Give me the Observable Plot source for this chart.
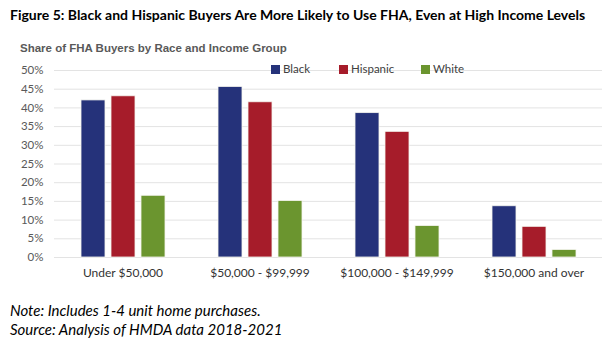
<!DOCTYPE html>
<html>
<head>
<meta charset="utf-8">
<script src="https://cdn.jsdelivr.net/npm/d3@7"></script>
<script src="https://cdn.jsdelivr.net/npm/@observablehq/plot@0.6"></script>
<style>
  html, body { margin: 0; padding: 0; background: #fff; }
  #wrap { position: relative; width: 610px; height: 347px; overflow: hidden; font-family: Lato, "Open Sans", sans-serif; }
  #title { position: absolute; left: 10px; top: 6px; font-weight: 700; font-size: 14px; color: #000; white-space: nowrap; }
  #subtitle { position: absolute; left: 20px; top: 42px; font-family: "Liberation Sans", Arial, sans-serif; font-weight: 700; font-size: 11.5px; color: #595959; white-space: nowrap; }
  #chart { position: absolute; left: 0; top: 40px; }
  #legend { position: absolute; top: 62px; left: 271px; font-size: 11.5px; color: #404040; white-space: nowrap; }
  #legend span.item { position: absolute; top: 0; white-space: nowrap; }
  #legend span.sw { display: inline-block; width: 9px; height: 9px; margin-right: 3px; vertical-align: -1px; }
  .note { position: absolute; left: 10px; font-style: italic; font-size: 15px; color: #000; white-space: nowrap; }
</style>
</head>
<body>
<div id="wrap">
  <div id="title">Figure 5: Black and Hispanic Buyers Are More Likely to Use FHA, Even at High Income Levels</div>
  <div id="subtitle">Share of FHA Buyers by Race and Income Group</div>
  <div id="chart"></div>
  <div id="legend"></div>
  <div class="note" style="top:301px">Note: Includes 1-4 unit home purchases.</div>
  <div class="note" style="top:320px">Source: Analysis of HMDA data 2018-2021</div>
</div>
<script>
const groups = ["Under $50,000", "$50,000 - $99,999", "$100,000 - $149,999", "$150,000 and over"];
const races = ["Black", "Hispanic", "White"];
const colors = ["#25327a", "#a61c2a", "#6b952f"];
const black = [42.0, 45.6, 38.6, 13.7];
const hispanic = [43.1, 41.5, 33.6, 8.2];
const white = [16.5, 15.1, 8.4, 2.0];
const yTicks = [0, 5, 10, 15, 20, 25, 30, 35, 40, 45, 50];

const series = [black, hispanic, white];
const data = [];
groups.forEach((g, i) => races.forEach((r, j) => data.push({group: g, race: r, value: series[j][i]})));

const chart = Plot.plot({
  width: 610,
  height: 250,
  marginTop: 30,
  marginBottom: 33,
  marginLeft: 53,
  marginRight: 8,
  style: {fontFamily: "Lato, 'Open Sans', sans-serif", fontSize: "11px", color: "#595959", background: "transparent"},
  fx: {domain: groups, padding: 0, label: null, axis: null},
  x: {domain: races, paddingInner: 0.2, paddingOuter: 0.883, axis: null},
  y: {domain: [0, 50], ticks: yTicks, label: null},
  color: {domain: races, range: colors},
  marks: [
    Plot.gridY(yTicks, {stroke: "#e3e3e3", strokeOpacity: 1, strokeWidth: 1}),
    Plot.axisY(yTicks, {tickSize: 0, tickPadding: 11, tickFormat: d => d + "%", label: null, fontSize: 11.5}),
    Plot.axisFx({anchor: "bottom", tickSize: 0, tickPadding: 11, label: null, fontSize: 12, fill: "#333"}),
    Plot.barY(data, {fx: "group", x: "race", y: "value", fill: "race", stroke: "#f4f4ee", strokeWidth: 0.8})
  ]
});
document.getElementById("chart").appendChild(chart);

const legend = document.getElementById("legend");
const offsets = [0, 68, 150];
races.forEach((r, i) => {
  const s = document.createElement("span");
  s.className = "item";
  s.style.left = offsets[i] + "px";
  s.innerHTML = `<span class="sw" style="background:${colors[i]}"></span>${r}`;
  legend.appendChild(s);
});
</script>
</body>
</html>
